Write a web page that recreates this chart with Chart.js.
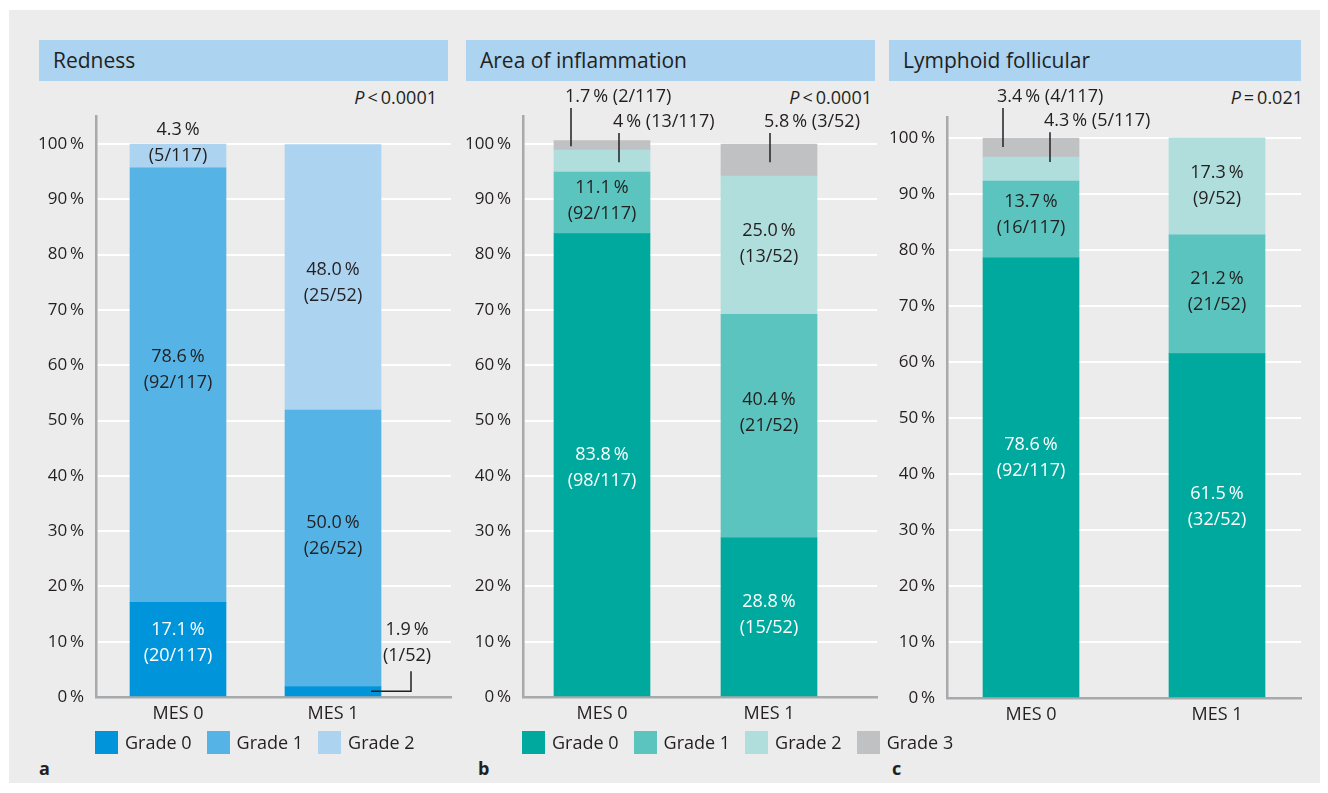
<!DOCTYPE html>
<html>
<head>
<meta charset="utf-8">
<script src="https://cdn.jsdelivr.net/npm/chart.js@4"></script>
<style>
  body { margin: 0; width: 1328px; height: 793px; background: #fff; position: relative; overflow: hidden;
         font-family: "Open Sans", sans-serif; color: #231f20; }
  .frame { position: absolute; left: 9px; top: 10px; width: 1311px; height: 773px; background: #ebeceb; }
  .head { position: absolute; top: 40px; height: 41px; line-height: 41px; background: #acd3f0;
          font-size: 21px; padding-left: 14px; box-sizing: border-box; }
  .pval { position: absolute; top: 85px; font-size: 18px; line-height: 24px; text-align: right; white-space: nowrap; }
  .letter { position: absolute; top: 756px; font-size: 18px; line-height: 24px; font-weight: bold; }
  .legend { position: absolute; top: 731px; display: flex; font-size: 18px; line-height: 23px; white-space: nowrap; }
  .legend .item { display: flex; margin-right: 15px; }
  .legend .box { width: 23px; height: 23px; margin-right: 7px; }
  .plot { position: absolute; top: 80px; height: 660px; }
</style>
</head>
<body>
<div class="frame"></div>

<div class="head" style="left:39px;width:409px">Redness</div>
<div class="head" style="left:466px;width:409px">Area of inflammation</div>
<div class="head" style="left:889px;width:412px">Lymphoid follicular</div>

<div class="pval" style="right:891px"><i>P</i>&#8201;&lt;&#8201;0.0001</div>
<div class="pval" style="right:456px"><i>P</i>&#8201;&lt;&#8201;0.0001</div>
<div class="pval" style="right:25px"><i>P</i>&#8201;=&#8201;0.021</div>

<div class="plot" id="wrapA"><canvas id="chartA"></canvas></div>
<div class="plot" id="wrapB"><canvas id="chartB"></canvas></div>
<div class="plot" id="wrapC"><canvas id="chartC"></canvas></div>

<div class="legend" id="legendA" style="left:95px"></div>
<div class="legend" id="legendB" style="left:522px"></div>

<div class="letter" style="left:39px">a</div>
<div class="letter" style="left:478px">b</div>
<div class="letter" style="left:892px">c</div>

<script>
const categories = ["MES 0", "MES 1"]
const grades = ["Grade 0", "Grade 1", "Grade 2", "Grade 3"]
const totals = [117, 52]

// percent per grade, [MES 0, MES 1]
const rednessPct = [[17.1, 1.9], [78.6, 50.0], [4.3, 48.0]]
const rednessN = [[20, 1], [92, 26], [5, 25]]

const areaPct = [[83.8, 28.8], [11.1, 40.4], [4, 25.0], [1.7, 5.8]]
const areaN = [[98, 15], [92, 21], [13, 13], [2, 3]]

const lymphPct = [[78.6, 61.5], [13.7, 21.2], [4.3, 17.3], [3.4, 0]]
const lymphN = [[92, 32], [16, 21], [5, 9], [4, 0]]

const BLUES = ["#0095da", "#55b4e5", "#acd3f0"]
const TEALS = ["#00a99d", "#5bc4bf", "#b0dedd", "#c0c1c3"]
const TEXT = "#231f20"
const AXIS = "#a7a9ac"

Chart.defaults.font.family = "'Open Sans', sans-serif"
Chart.defaults.color = TEXT

const segmentLabels = {
  id: "segmentLabels",
  afterDatasetsDraw(chart, args, opts) {
    const ctx = chart.ctx
    const y = chart.scales.y
    ctx.save()
    ctx.font = "18px 'Open Sans'"
    ctx.textBaseline = "middle"
    ctx.strokeStyle = TEXT
    ctx.lineWidth = 1.5
    opts.items.forEach(it => {
      const bar = chart.getDatasetMeta(it.ds).data[it.i]
      const v = chart.data.datasets[it.ds].data[it.i].y
      const pct = v.toFixed(it.digits ?? 1) + "\u2009%"
      const count = "(" + opts.counts[it.ds][it.i] + "/" + totals[it.i] + ")"
      const ty = y.getPixelForValue(it.at)
      ctx.fillStyle = it.color || TEXT

      if (it.type === "top") {
        // one-line label above the bar with a vertical leader
        const lx = bar.x - bar.width / 2 + it.lineX
        ctx.textAlign = "left"
        ctx.fillText(pct + " " + count, lx - 6, ty)
        ctx.beginPath()
        ctx.moveTo(lx, ty + 11)
        ctx.lineTo(lx, y.getPixelForValue(it.to))
        ctx.stroke()
      } else if (it.type === "side") {
        // two-line label right of the bar with an elbow leader
        const tx = bar.x + it.dx
        const segY = (bar.y + bar.base) / 2
        ctx.textAlign = "center"
        ctx.fillText(pct, tx, ty - 13)
        ctx.fillText(count, tx, ty + 13)
        ctx.beginPath()
        ctx.moveTo(bar.x + bar.width / 2 - 10, segY)
        ctx.lineTo(tx + 4, segY)
        ctx.lineTo(tx + 4, ty + 28)
        ctx.stroke()
      } else {
        ctx.textAlign = "center"
        ctx.fillText(pct, bar.x, ty - 13)
        ctx.fillText(count, bar.x, ty + 13)
      }
    })
    ctx.restore()
  }
}

function buildLegend(el, chart) {
  chart.data.datasets.forEach(ds => {
    const item = document.createElement("div")
    item.className = "item"
    item.innerHTML = `<div class="box" style="background:${ds.backgroundColor}"></div><span>${ds.label}</span>`
    el.appendChild(item)
  })
}

function makeChart(id, geo, pct, counts, colors, items) {
  const wrap = document.getElementById("wrap" + id)
  wrap.style.left = geo.left + "px"
  wrap.style.width = (geo.right - geo.left + 4) + "px"
  const spacing = geo.centers[1] - geo.centers[0]

  return new Chart(document.getElementById("chart" + id), {
    type: "bar",
    data: {
      datasets: pct.map((vals, g) => ({
        label: grades[g],
        data: vals.map((v, i) => ({ x: i, y: v })),
        backgroundColor: colors[g],
        borderWidth: 0,
        barThickness: 96
      }))
    },
    options: {
      responsive: true,
      maintainAspectRatio: false,
      animation: false,
      layout: { padding: { top: geo.zeroY - geo.yMax * geo.ppp - 80, right: 4, left: 0, bottom: 0 } },
      plugins: {
        legend: { display: false },
        tooltip: { enabled: false },
        segmentLabels: { items, counts }
      },
      scales: {
        x: {
          type: "linear",
          stacked: true,
          offset: false,
          min: -(geo.centers[0] - geo.axisX) / spacing,
          max: 1 + (geo.right - geo.centers[1]) / spacing,
          z: 1,
          afterBuildTicks: s => { s.ticks = categories.map((c, i) => ({ value: i })) },
          afterFit: s => { s.height = 740 - geo.zeroY },
          ticks: { callback: v => categories[v], font: { size: 18 }, padding: 6, maxRotation: 0 },
          grid: { display: false, drawTicks: false, offset: false },
          border: { color: AXIS, width: 2.5 }
        },
        y: {
          stacked: true,
          min: 0,
          max: geo.yMax,
          afterBuildTicks: s => { s.ticks = s.ticks.filter(t => t.value <= 100) },
          afterFit: s => { s.width = geo.axisX - geo.left },
          ticks: { stepSize: 10, maxTicksLimit: 20, callback: v => v + "\u2009%", font: { size: 17 }, padding: 12 },
          grid: { color: "#ffffff", lineWidth: 2, drawTicks: false },
          border: { color: AXIS, width: 2.5 }
        }
      }
    },
    plugins: [segmentLabels]
  })
}

const chartA = makeChart("A",
  { left: 21, axisX: 96, right: 451, zeroY: 697, ppp: 5.53, yMax: 105, centers: [178, 333] },
  rednessPct, rednessN, BLUES,
  [
    { ds: 0, i: 0, at: 9.8, color: "#ffffff" },
    { ds: 1, i: 0, at: 59.1 },
    { ds: 2, i: 0, at: 100.2 },
    { ds: 0, i: 1, at: 9.7, type: "side", dx: 74 },
    { ds: 1, i: 1, at: 29.1 },
    { ds: 2, i: 1, at: 74.8 }
  ])

const chartB = makeChart("B",
  { left: 448, axisX: 523, right: 877, zeroY: 697, ppp: 5.53, yMax: 105, centers: [602, 769] },
  areaPct, areaN, TEALS,
  [
    { ds: 0, i: 0, at: 41.5, color: "#ffffff" },
    { ds: 1, i: 0, at: 89.7 },
    { ds: 2, i: 0, at: 104.0, to: 96.7, type: "top", lineX: 65, digits: 0 },
    { ds: 3, i: 0, at: 108.5, to: 99.6, type: "top", lineX: 17 },
    { ds: 0, i: 1, at: 14.8, color: "#ffffff" },
    { ds: 1, i: 1, at: 51.3 },
    { ds: 2, i: 1, at: 82.0 },
    { ds: 3, i: 1, at: 104.0, to: 96.7, type: "top", lineX: 49 }
  ])

const chartC = makeChart("C",
  { left: 872, axisX: 947, right: 1301, zeroY: 698, ppp: 5.6, yMax: 103.75, centers: [1031, 1217] },
  lymphPct, lymphN, TEALS,
  [
    { ds: 0, i: 0, at: 42.8, color: "#ffffff" },
    { ds: 1, i: 0, at: 86.3 },
    { ds: 2, i: 0, at: 103.0, to: 95.7, type: "top", lineX: 67 },
    { ds: 3, i: 0, at: 107.3, to: 98.4, type: "top", lineX: 20 },
    { ds: 0, i: 1, at: 34.2, color: "#ffffff" },
    { ds: 1, i: 1, at: 72.6 },
    { ds: 2, i: 1, at: 91.4 }
  ])

buildLegend(document.getElementById("legendA"), chartA)
buildLegend(document.getElementById("legendB"), chartB)
</script>
</body>
</html>
